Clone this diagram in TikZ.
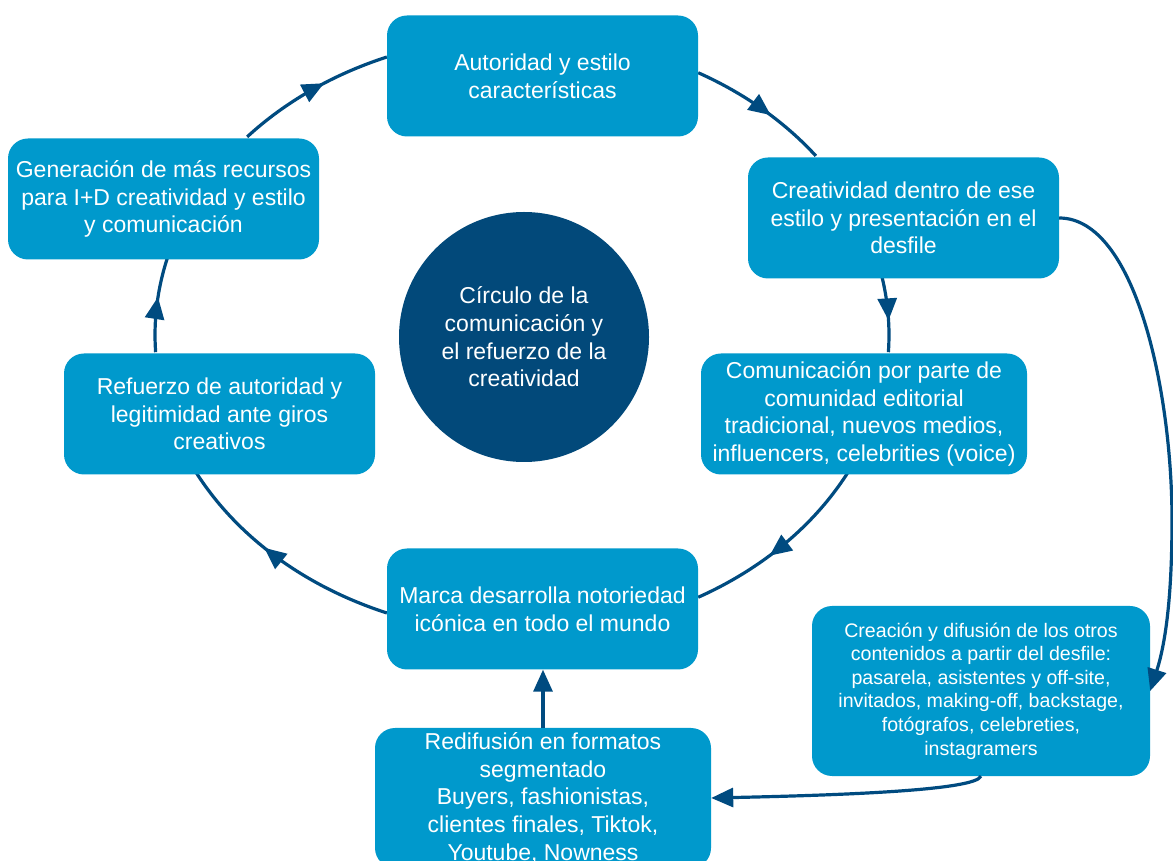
\documentclass[tikz,border=0pt]{standalone}
\usepackage{fontspec}
\setmainfont{Liberation Sans}
\usetikzlibrary{arrows.meta,decorations.markings}
\definecolor{boxc}{HTML}{0099CC}
\definecolor{circc}{HTML}{02497A}
\definecolor{arrc}{HTML}{004B80}
\begin{document}
\begin{tikzpicture}[x=1pt,y=1pt,
  box/.style={fill=boxc, rounded corners=20pt, text=white, align=center, inner sep=0pt,
    minimum width=311pt, minimum height=121pt, font=\fontsize{23}{27.6}\selectfont},
  smallbox/.style={box, font=\fontsize{19.6}{23.6}\selectfont},
  hub/.style={circle, fill=circc, text=white, align=center, inner sep=0pt,
    minimum size=250pt, font=\fontsize{23}{27.6}\selectfont},
  conn/.style={draw=arrc, line width=3.2pt},
  tipend/.style={conn, -{Triangle[length=22pt,width=19pt]}},
  cycarrow/.style={conn, postaction={decorate}, decoration={markings,
    mark=at position 0.58 with {\arrow{Triangle[length=22pt,width=19pt]}}}}]
\useasboundingbox (0,0) rectangle (1173,860);
\clip (0,0) rectangle (1173,860);
\fill[white] (0,0) rectangle (1173,860);
\coordinate (cyc) at (522,525);
% cycle arcs
\draw[cycarrow] ([shift={(138.5:367 and 299)}]cyc) arc[start angle=138.5, end angle=111.6, x radius=367, y radius=299];
\draw[cycarrow] ([shift={(61.3:367 and 299)}]cyc) arc[start angle=61.3, end angle=36.8, x radius=367, y radius=299];
\draw[cycarrow] ([shift={(11.2:367 and 299)}]cyc) arc[start angle=11.2, end angle=-3.3, x radius=367, y radius=299];
\draw[cycarrow] ([shift={(-27.5:367 and 299)}]cyc) arc[start angle=-27.5, end angle=-61.3, x radius=367, y radius=299];
\draw[cycarrow] ([shift={(-111.6:367 and 299)}]cyc) arc[start angle=-111.6, end angle=-152.5, x radius=367, y radius=299];
\draw[cycarrow] ([shift={(183.3:367 and 299)}]cyc) arc[start angle=183.3, end angle=165.1, x radius=367, y radius=299];
% nodes
\node[box] (A) at (542.5,784) {Autoridad y estilo\\características};
\node[box] (B) at (903.5,642) {Creatividad dentro de ese\\estilo y presentación en el\\desfile};
\node[box, minimum width=326pt] (C) at (864,446) {Comunicación por parte de\\comunidad editorial\\tradicional, nuevos medios,\\influencers, celebrities (voice)};
\node[box] (D) at (542.5,251) {Marca desarrolla notoriedad\\icónica en todo el mundo};
\node[box] (E) at (219.5,446) {Refuerzo de autoridad y\\legitimidad ante giros\\creativos};
\node[box] (F) at (163.5,661) {Generación de más recursos\\para I+D creatividad y estilo\\y comunicación};
\node[smallbox, minimum width=338pt, minimum height=170pt] (G) at (981,169) {Creación y difusión de los otros\\contenidos a partir del desfile:\\pasarela, asistentes y off-site,\\invitados, making-off, backstage,\\fotógrafos, celebreties,\\instagramers};
\node[box, minimum width=336pt, minimum height=140pt] (H) at (543,62) {Redifusión en formatos\\segmentado\\Buyers, fashionistas,\\clientes finales, Tiktok,\\Youtube, Nowness};
\node[hub] (O) at (524,523) {Círculo de la\\comunicación y\\el refuerzo de la\\creatividad};
% other connectors
\draw[tipend] (B.east) .. controls (1135,642) and (1172,470) .. (1172,340) .. controls (1172,260) and (1165,215) .. (G.east);
\draw[tipend] (G.south) .. controls (975,70) and (850,65) .. (H.east);
\draw[tipend] (H.north) -- (H.north |- D.south);
\end{tikzpicture}
\end{document}
